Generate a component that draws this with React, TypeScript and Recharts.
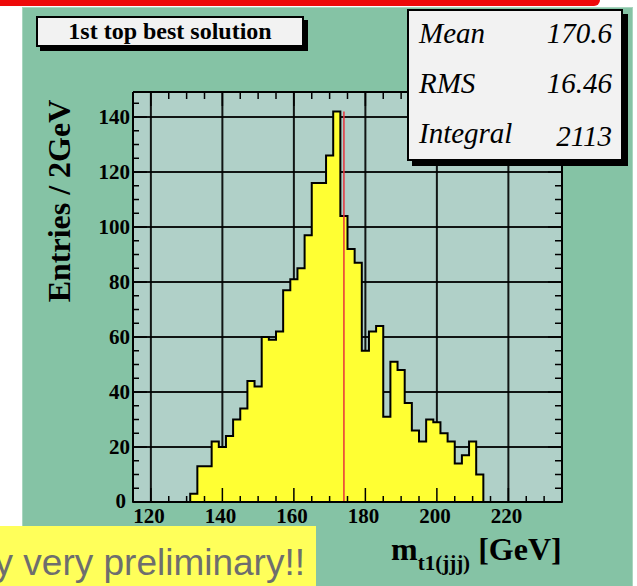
import { ComposedChart, Area, XAxis, YAxis, CartesianGrid, ReferenceLine } from 'recharts'

// histogram: bin centres (2 GeV bins) and entries
const binCentres = [
  132, 134, 136, 138, 140, 142, 144, 146, 148, 150, 152, 154, 156, 158, 160, 162, 164, 166, 168, 170, 172,
  174, 176, 178, 180, 182, 184, 186, 188, 190, 192, 194, 196, 198, 200, 202, 204, 206, 208, 210, 212,
]
const entries = [
  3, 13, 13, 22, 20, 24, 30, 34, 44, 42, 60, 59, 62, 77, 81, 85, 97, 116, 116, 126, 142,
  104, 92, 87, 55, 62, 64, 31, 51, 48, 36, 26, 22, 30, 29, 25, 22, 14, 17, 22, 10,
]
const binWidth = 2
const xRange = [115, 235]
const yMax = 149.1
const markerMass = 174

const xMajor = [120, 140, 160, 180, 200, 220]
const yMajor = [0, 20, 40, 60, 80, 100, 120, 140]
const stats = [
  { name: 'Mean', value: '170.6' },
  { name: 'RMS', value: '16.46' },
  { name: 'Integral', value: '2113' },
]

const steps = (from: number, to: number, by: number) => {
  const out: number[] = []
  for (let v = from; v <= to; v += by) out.push(v)
  return out
}
const xAll = steps(xRange[0], xRange[1], 5)
const xMinor = xAll.filter((v) => !xMajor.includes(v))
const yAll = steps(0, 145, 5)
const yMinor = yAll.filter((v) => !yMajor.includes(v))

// step-area points at the low edge of every bin, zero outside
const points = [
  { m: xRange[0], n: 0 },
  ...binCentres.map((c, i) => ({ m: c - binWidth / 2, n: entries[i] })),
  { m: binCentres[binCentres.length - 1] + binWidth / 2, n: 0 },
  { m: xRange[1], n: 0 },
]

const serif = '"Liberation Serif", "Times New Roman", serif'
const TICK = 1.5

const xTick = (dir: number, labels: boolean) => (p: any) => {
  const v = p.payload.value
  const len = xMajor.includes(v) ? 14 : 7
  return (
    <g>
      <line x1={p.x} x2={p.x} y1={p.y} y2={p.y + dir * len} stroke="#000" strokeWidth={TICK} />
      {labels && (
        <text x={p.x - 2} y={p.y + 21} textAnchor="middle" fontFamily={serif} fontWeight="bold" fontSize={21} fill="#000">
          {v}
        </text>
      )}
    </g>
  )
}

const yTick = (dir: number, labels: boolean) => (p: any) => {
  const v = p.payload.value
  const len = yMajor.includes(v) ? 14 : 7
  return (
    <g>
      <line x1={p.x} x2={p.x + dir * len} y1={p.y} y2={p.y} stroke="#000" strokeWidth={TICK} />
      {labels && (
        <text x={p.x - (v === 0 ? 7 : 3)} y={p.y + (v === 0 ? 6 : 7)} textAnchor="end" fontFamily={serif} fontWeight="bold" fontSize={21} fill="#000">
          {v}
        </text>
      )}
    </g>
  )
}

const frame = { stroke: '#000', strokeWidth: 2 }
const common = { interval: 0 as const, tickSize: 0, tickMargin: 0, tickLine: false, allowDataOverflow: true }

export default function App() {
  return (
    <div style={{ position: 'absolute', left: 0, top: 0, width: 637, height: 586, overflow: 'hidden', background: '#fff' }}>
      <div style={{ position: 'absolute', left: 0, top: 0, width: 600, height: 6, background: '#ee0a0a', borderBottomRightRadius: 8 }} />
      <div style={{ position: 'absolute', left: 22, top: 7, width: 609, height: 590, background: '#85c3a5', border: '1px solid #a9d6bf' }} />

      <div style={{ position: 'absolute', left: 0, top: 0 }}>
        <ComposedChart width={637} height={586} data={points} margin={{ top: 91, right: 74, bottom: 82, left: 131 }}>
          <CartesianGrid xAxisId="x" yAxisId="y" stroke="#000" strokeWidth={2} strokeOpacity={0.9} fill="#b0d0c8" fillOpacity={1} />
          <Area
            xAxisId="x"
            yAxisId="y"
            type="stepAfter"
            dataKey="n"
            stroke="#000"
            strokeWidth={2}
            fill="#ffff33"
            fillOpacity={1}
            dot={false}
            activeDot={false}
            isAnimationActive={false}
          />
          <ReferenceLine
            xAxisId="x"
            yAxisId="y"
            segment={[{ x: markerMass, y: 0 }, { x: markerMass, y: Math.max(...entries) }]}
            stroke="#e8323c"
            strokeWidth={1.5}
          />
          <XAxis xAxisId="x" dataKey="m" type="number" domain={xRange} orientation="bottom" height={1}
            ticks={xMajor} axisLine={frame} tick={xTick(-1, true)} {...common} />
          <XAxis xAxisId="xm" dataKey="m" type="number" domain={xRange} orientation="bottom" height={1}
            ticks={xMinor} axisLine={false} tick={xTick(-1, false)} {...common} />
          <XAxis xAxisId="xt" dataKey="m" type="number" domain={xRange} orientation="top" height={1}
            ticks={xAll} axisLine={frame} tick={xTick(1, false)} {...common} />
          <YAxis yAxisId="y" type="number" domain={[0, yMax]} orientation="left" width={1}
            ticks={yMajor} axisLine={frame} tick={yTick(1, true)} {...common} />
          <YAxis yAxisId="ym" type="number" domain={[0, yMax]} orientation="left" width={1}
            ticks={yMinor} axisLine={false} tick={yTick(1, false)} {...common} />
          <YAxis yAxisId="yr" type="number" domain={[0, yMax]} orientation="right" width={1}
            ticks={yAll} axisLine={frame} tick={yTick(-1, false)} {...common} />
        </ComposedChart>
      </div>

      {/* title box */}
      <div
        style={{
          position: 'absolute', left: 36, top: 16, width: 264, height: 27, background: '#f2f2f2', border: '2px solid #000',
          boxShadow: '4px 4px 0 #000', fontFamily: serif, fontWeight: 'bold', fontSize: 24, lineHeight: '27px', textAlign: 'center',
        }}
      >
        1st top best solution
      </div>

      {/* stats box */}
      <div
        style={{
          position: 'absolute', left: 407, top: 9, width: 212, height: 148, background: '#f2f2f2', border: '2px solid #000',
          boxShadow: '5px 5px 0 #000', fontFamily: serif, fontStyle: 'italic', fontSize: 29,
        }}
      >
        {stats.map((s, i) => (
          <div key={s.name} style={{ position: 'absolute', left: 10, right: 9, top: 8 + i * 50, lineHeight: '29px', display: 'flex', justifyContent: 'space-between' }}>
            <span>{s.name}</span>
            <span style={{ position: 'relative', top: i === 2 ? 3 : 0 }}>{s.value}</span>
          </div>
        ))}
      </div>

      {/* y title */}
      <div
        style={{
          position: 'absolute', left: 59, top: 201, transform: 'translate(-50%, -50%) rotate(-90deg)', whiteSpace: 'nowrap',
          fontFamily: serif, fontWeight: 'bold', fontSize: 32, lineHeight: '32px',
        }}
      >
        Entries / 2GeV
      </div>

      {/* x title */}
      <div style={{ position: 'absolute', left: 391, top: 533, whiteSpace: 'nowrap', fontFamily: serif, fontWeight: 'bold', fontSize: 32, lineHeight: '32px' }}>
        m<span style={{ fontSize: 21, position: 'relative', top: 10 }}>t1(jjj)</span> [GeV]
      </div>

      {/* note */}
      <div style={{ position: 'absolute', left: 0, top: 526, width: 316, height: 60, background: '#ffff5a', overflow: 'hidden' }}>
        <span
          style={{
            position: 'absolute', right: 11, top: 18, whiteSpace: 'nowrap', fontFamily: '"Liberation Sans", Arial, sans-serif',
            fontSize: 37, lineHeight: '37px', color: '#6e6e6e',
          }}
        >
          y very preliminary!!
        </span>
      </div>
    </div>
  )
}
